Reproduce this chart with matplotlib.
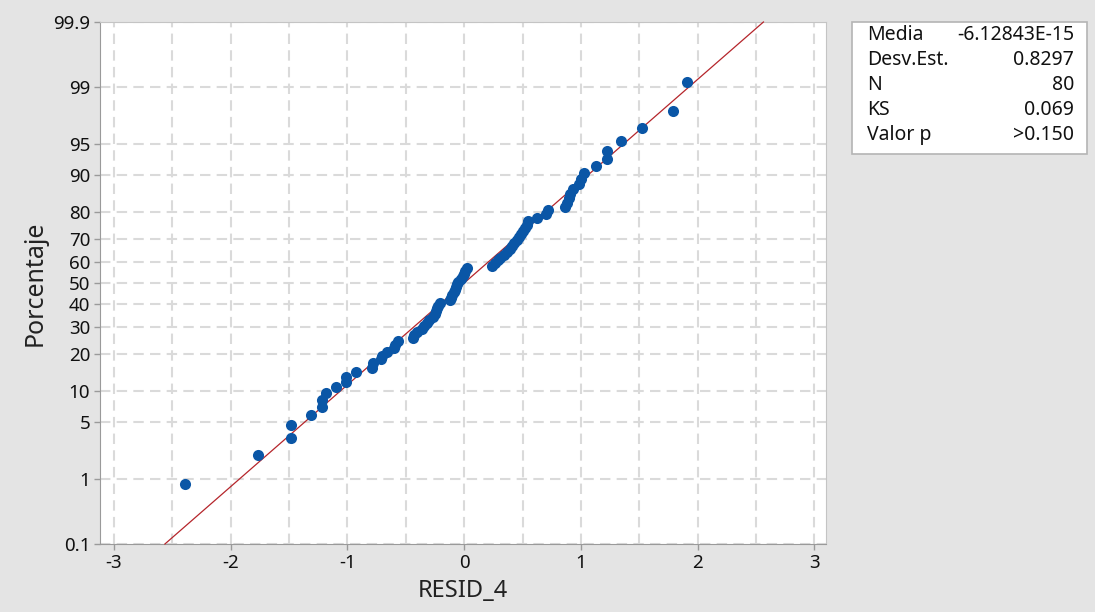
import numpy as np
import matplotlib
matplotlib.use("Agg")
import matplotlib.pyplot as plt
from matplotlib.patches import Rectangle
from matplotlib.ticker import FixedLocator, MultipleLocator
from statistics import NormalDist

# ---- data (sorted residuals) ----
resid = [
    -2.39, -1.77, -1.48, -1.48, -1.31, -1.22, -1.22, -1.18, -1.10, -1.01,
    -1.01, -0.93, -0.79, -0.78, -0.71, -0.70, -0.66, -0.60, -0.59, -0.57,
    -0.44, -0.43, -0.40, -0.36, -0.34, -0.32, -0.30, -0.27, -0.25, -0.24,
    -0.23, -0.22, -0.21, -0.12, -0.11, -0.10, -0.09, -0.08, -0.07, -0.06,
    -0.05, -0.03, -0.01, 0.00, 0.01, 0.02, 0.24, 0.26, 0.29, 0.31,
    0.34, 0.37, 0.39, 0.41, 0.43, 0.45, 0.47, 0.49, 0.50, 0.52,
    0.54, 0.55, 0.62, 0.70, 0.72, 0.86, 0.88, 0.90, 0.91, 0.93,
    0.98, 1.00, 1.03, 1.13, 1.22, 1.22, 1.34, 1.52, 1.79, 1.91,
]
mean_val = -6.12843e-15
sd_val = 0.8297
stat_labels = ["Media", "Desv.Est.", "N", "KS", "Valor p"]
stat_values = ["-6.12843E-15", "0.8297", "80", "0.069", ">0.150"]
y_ticks = [0.1, 1, 5, 10, 20, 30, 40, 50, 60, 70, 80, 90, 95, 99, 99.9]
y_tick_labels = ["0.1", "1", "5", "10", "20", "30", "40", "50", "60", "70",
                 "80", "90", "95", "99", "99.9"]
x_ticks = [-3, -2, -1, 0, 1, 2, 3]

# Benard median ranks (Minitab plotting positions)
n = len(resid)
ranks = np.arange(1, n + 1)
pct = (ranks - 0.3) / (n + 0.4) * 100

nd = NormalDist()
_ppf = np.vectorize(lambda v: nd.inv_cdf(v / 100.0), otypes=[float])
_cdf = np.vectorize(lambda v: nd.cdf(v) * 100.0, otypes=[float])
def fwd(p):
    p = np.clip(np.asarray(p, dtype=float), 1e-6, 100 - 1e-6)
    return _ppf(p)
def inv(z):
    return _cdf(np.asarray(z, dtype=float))

plt.rcParams['font.family'] = ['Noto Sans', 'DejaVu Sans']
bg = '#e4e4e4'
fig = plt.figure(figsize=(10.95, 6.12), dpi=100, facecolor=bg)
ax = fig.add_axes([100/1095, 68/612, 726/1095, 522/612])
ax.set_facecolor('white')
ax.set_yscale('function', functions=(fwd, inv))
ax.set_ylim(0.1, 99.9)
ax.set_xlim(-3.12, 3.10)

# fitted line
line_p = np.array([0.1, 99.9])
line_x = mean_val + sd_val * np.array([nd.inv_cdf(v / 100) for v in line_p])
ax.plot(line_x, line_p, color='#b5252b', lw=0.9, zorder=3, clip_on=False)

ax.scatter(resid, pct, s=64, color='#0a56a6', zorder=4, linewidths=0)

ax.yaxis.set_major_locator(FixedLocator(y_ticks))
ax.set_yticklabels(y_tick_labels)
ax.yaxis.set_minor_locator(FixedLocator([]))
ax.xaxis.set_major_locator(FixedLocator(x_ticks))
ax.set_xticklabels([str(t) for t in x_ticks])
ax.xaxis.set_minor_locator(MultipleLocator(0.5))

gridkw = dict(color='#dadada', lw=1.5, linestyle=(0, (5, 3)))
ax.grid(True, axis='y', which='major', **gridkw)
ax.grid(True, axis='x', which='both', **gridkw)
ax.set_axisbelow(True)

ax.tick_params(axis='both', which='major', labelsize=13.5, length=4,
               color='#9a9a9a', width=1, pad=3, labelcolor='#111111')
ax.tick_params(axis='x', which='minor', length=0)

for s in ['left', 'bottom']:
    ax.spines[s].set_color('#9a9a9a')
for s in ['top', 'right']:
    ax.spines[s].set_color('#c4c4c4')

ax.set_xlabel('RESID_4', fontsize=17, fontweight='semibold', color='#222222', labelpad=5)
ax.set_ylabel('Porcentaje', fontsize=18, fontweight='semibold', color='#222222', labelpad=4)

# stats box
fig.patches.append(Rectangle((852/1095, 1 - 154/612), 235/1095, 132/612,
                             transform=fig.transFigure, facecolor='white',
                             edgecolor='#b4b4b4', lw=1.2))
row_y = [35, 60, 85, 110, 135]
for lab, val, yy in zip(stat_labels, stat_values, row_y):
    fig.text(867/1095, 1 - yy/612, lab, fontsize=14, va='center', ha='left', color='#111111')
    fig.text(1074/1095, 1 - yy/612, val, fontsize=14, va='center', ha='right', color='#111111')

fig.savefig('out.png', dpi=100, facecolor=bg)
